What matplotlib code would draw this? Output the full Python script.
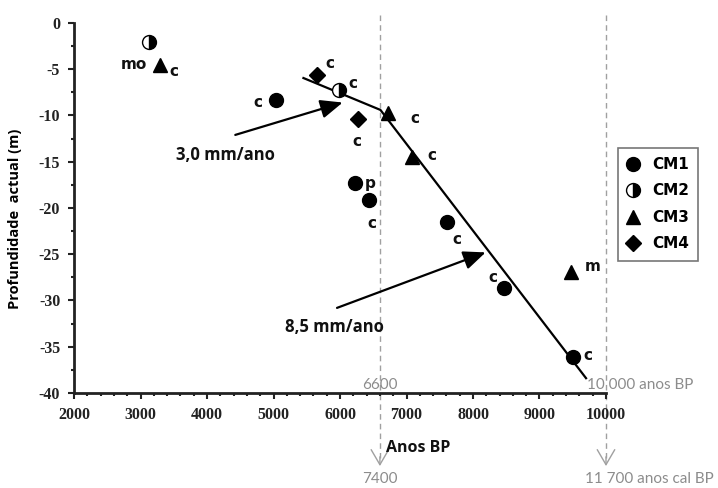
import matplotlib
matplotlib.use("Agg")
import matplotlib.pyplot as plt
from matplotlib.ticker import MultipleLocator

# ---------------- data ----------------
cm1_x = [5030, 6220, 6430, 7610, 8470, 9505]
cm1_y = [-8.3, -17.3, -19.1, -21.5, -28.7, -36.1]
cm1_lab = ["c", "p", "c", "c", "c", "c"]

cm2_x = [3120, 5990]
cm2_y = [-2.1, -7.25]
cm2_lab = ["", "c"]

cm3_x = [3295, 6724, 7084, 9470]
cm3_y = [-4.5, -9.7, -14.45, -26.9]
cm3_lab = ["c", "c", "c", "m"]

cm4_x = [5655, 6272]
cm4_y = [-5.6, -10.4]
cm4_lab = ["c", "c"]

trend_x = [5450, 6608, 9700]
trend_y = [-5.95, -9.4, -38.4]

rate_labels = ["3,0 mm/ano", "8,5 mm/ano"]
ref_ages_bp = [6600, 10000]
ref_labels_bp = ["6600", "10 000 anos BP"]
ref_labels_cal = ["7400", "11 700 anos cal BP"]

x_ticks = [2000, 3000, 4000, 5000, 6000, 7000, 8000, 9000, 10000]
y_ticks = [0, -5, -10, -15, -20, -25, -30, -35, -40]

# ---------------- figure ----------------
fig = plt.figure(figsize=(7.18, 4.88), dpi=100)
ax = fig.add_axes([0.1031, 0.1947, 0.7409, 0.7582])
ax.set_xlim(2000, 10000)
ax.set_ylim(-40, 0)

for s in ["top", "right"]:
    ax.spines[s].set_visible(False)
for s in ["left", "bottom"]:
    ax.spines[s].set_linewidth(2.0)
    ax.spines[s].set_color("#222222")

ax.set_xticks(x_ticks)
ax.set_yticks(y_ticks)
ax.set_xticklabels([str(v) for v in x_ticks])
ax.set_yticklabels([str(v) for v in y_ticks])
ax.xaxis.set_minor_locator(MultipleLocator(200))
ax.yaxis.set_minor_locator(MultipleLocator(2.5))
ax.tick_params(axis="both", which="major", direction="out", length=4, width=1.5,
               colors="#222222", pad=6)
ax.tick_params(axis="both", which="minor", direction="out", length=2.5, width=1.5,
               colors="#222222")
for lab in ax.get_xticklabels() + ax.get_yticklabels():
    lab.set_fontfamily("Liberation Serif")
    lab.set_fontweight("bold")
    lab.set_fontsize(11.5)
    lab.set_color("#222222")

ax.set_ylabel("Profundidade  actual (m)", family="Open Sans", weight="bold",
              fontsize=10.5)
ax.yaxis.set_label_coords(-0.098, 0.47)

# dashed reference lines
gray = "#8c8c8c"
for xv, lb, lc in zip(ref_ages_bp, ref_labels_bp, ref_labels_cal):
    ax.plot([xv, xv], [0.9, -47.0], ls=(0, (4, 3)), color="#a0a0a0", lw=1.0,
            clip_on=False, zorder=1)
    ax.annotate("", xy=(xv, -48.2), xytext=(xv, -46.6),
                arrowprops=dict(arrowstyle="->,head_length=0.6,head_width=0.35",
                                color="#a0a0a0", lw=1.0, mutation_scale=18),
                annotation_clip=False)
    if xv == ref_ages_bp[0]:
        ax.text(xv, -39.1, lb, ha="center", va="center", color=gray,
                family="Lato", fontsize=11)
        ax.text(xv, -49.3, lc, ha="center", va="center", color=gray,
                family="Lato", fontsize=11)
    else:
        ax.text(9720, -39.1, lb, ha="left", va="center", color=gray,
                family="Lato", fontsize=11, clip_on=False)
        ax.text(9690, -49.3, lc, ha="left", va="center", color=gray,
                family="Lato", fontsize=11, clip_on=False)

ax.text(6690, -46.0, "Anos BP", ha="left", va="center", family="Open Sans",
        weight="bold", fontsize=11.5, color="#111111")

# trend line
ax.plot(trend_x, trend_y, color="black", lw=1.6, zorder=3, clip_on=False)

# arrows + rate labels
ax.annotate("", xy=(6040, -8.6), xytext=(4425, -12.1),
            arrowprops=dict(arrowstyle="-|>,head_length=0.9,head_width=0.38",
                            color="black", lw=1.6, mutation_scale=15,
                            shrinkA=0, shrinkB=0), zorder=4)
ax.annotate("", xy=(8190, -24.8), xytext=(5955, -30.8),
            arrowprops=dict(arrowstyle="-|>,head_length=0.9,head_width=0.38",
                            color="black", lw=1.6, mutation_scale=15,
                            shrinkA=0, shrinkB=0), zorder=4)
ax.text(4270, -14.3, rate_labels[0], ha="center", va="center",
        family="Open Sans", weight="bold", fontsize=12, color="#111111")
ax.text(5910, -32.9, rate_labels[1], ha="center", va="center",
        family="Open Sans", weight="bold", fontsize=12, color="#111111")

# markers
ms = 10
ax.plot(cm1_x, cm1_y, "o", color="black", ms=ms, ls="none", label="CM1", zorder=5)
ax.plot(cm2_x, cm2_y, "o", color="black", ms=ms, ls="none", fillstyle="right",
        markerfacecoloralt="white", markeredgecolor="black", mew=1.0,
        label="CM2", zorder=5)
ax.plot(cm3_x, cm3_y, "^", color="black", ms=ms, ls="none", label="CM3", zorder=5)
ax.plot(cm4_x, cm4_y, "D", color="black", ms=8, ls="none", label="CM4", zorder=5)

# point labels
lab_font = dict(family="DejaVu Sans", weight="bold", fontsize=11, color="#111111",
                ha="center", va="center")
cm1_off = [(-13, -2), (11, 0), (2, -17), (7, -12.5), (-8.5, 8), (11, 1)]
cm2_off = [(0, 0), (10, 5)]
cm3_off = [(10, -5), (19, -4), (14.5, 1), (16, 3.5)]
cm4_off = [(9.5, 8), (-0.7, -16)]
for xs, ys, labs, offs in [(cm1_x, cm1_y, cm1_lab, cm1_off),
                           (cm2_x, cm2_y, cm2_lab, cm2_off),
                           (cm3_x, cm3_y, cm3_lab, cm3_off),
                           (cm4_x, cm4_y, cm4_lab, cm4_off)]:
    for x, y, t, o in zip(xs, ys, labs, offs):
        if t:
            ax.annotate(t, (x, y), xytext=o, textcoords="offset points", **lab_font)
ax.annotate("mo", (cm3_x[0], cm3_y[0]), xytext=(-19, 0), textcoords="offset points",
            **lab_font)

# legend
leg = fig.legend(loc="upper left", bbox_to_anchor=(0.861, 0.697),
                 prop=dict(family="DejaVu Sans", weight="bold", size=11),
                 frameon=True, fancybox=False, edgecolor="#555555",
                 handlelength=0.8, handletextpad=0.8, labelspacing=0.75,
                 borderpad=0.6, borderaxespad=0)
leg.get_frame().set_linewidth(1.2)

fig.savefig("out.png", dpi=100)
